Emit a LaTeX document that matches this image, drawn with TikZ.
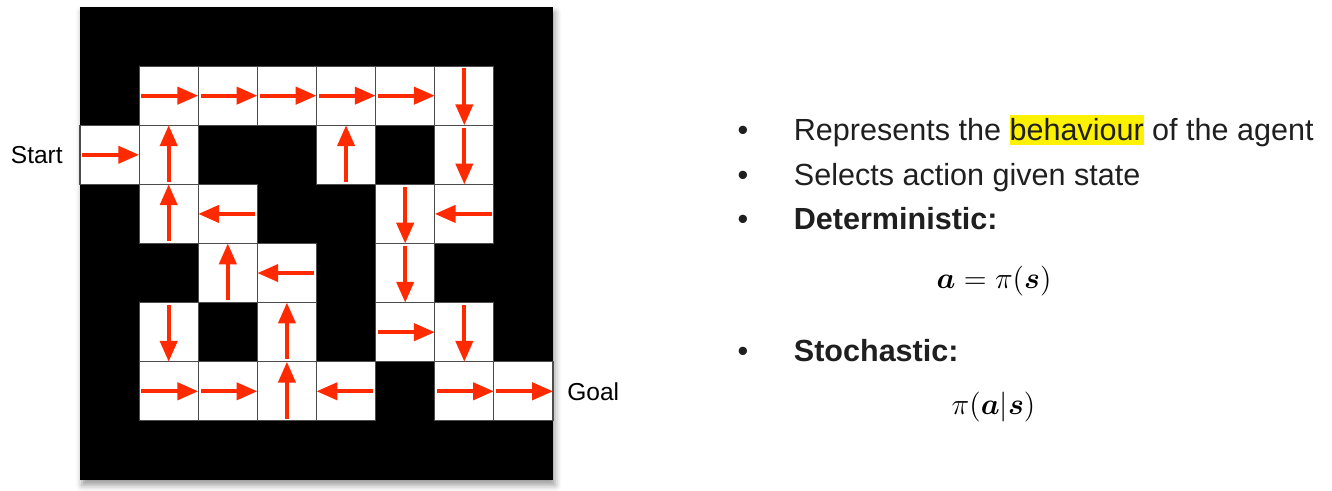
\documentclass[tikz,border=0pt]{standalone}
\usepackage{amsmath,amssymb}
\usepackage{xcolor}
\usepackage[no-math]{fontspec}
\setmainfont{Liberation Sans}
\usetikzlibrary{arrows.meta,positioning,shadows.blur}

\definecolor{polred}{RGB}{255,42,0}
\definecolor{marker}{RGB}{255,242,0}
\newcommand{\hl}[1]{{\setlength{\fboxsep}{0pt}\colorbox{marker}{\rule[-0.13em]{0pt}{0.98em}#1}}}

\tikzset{
  cell/.style={draw=black!70, fill=white, line width=0.5pt, minimum size=1cm, inner sep=0pt},
  pol/.style={draw=polred, line width=1.8pt, -{Triangle[length=10pt,width=8.2pt]}},
  lbl/.style={inner sep=0pt, font=\fontsize{11.8}{14}\selectfont},
  txt/.style={inner sep=0pt, text=black!88, font=\fontsize{14.7}{17.6}\selectfont},
  eq/.style={inner sep=0pt, font=\fontsize{14}{17}\selectfont}
}

\begin{document}
\begin{tikzpicture}[x=1cm, y=-1cm, thick]
    \useasboundingbox (-1.353,-0.118) rectangle (21.175,8.186);
    % the maze
    \fill[black, blur shadow={shadow xshift=1pt, shadow yshift=-2.5pt, shadow blur radius=3pt}] (0,0) rectangle (8,8);
    \foreach \c/\r in {1/1,2/1,3/1,4/1,5/1,6/1, 0/2,1/2,4/2,6/2, 1/3,2/3,5/3,6/3,
                       2/4,3/4,5/4, 1/5,3/5,5/5,6/5, 1/6,2/6,3/6,4/6,6/6,7/6}
        \node[cell] (c\c\r) at (\c+0.5,\r+0.5) {};
    % policy arrows
    \foreach \c/\r/\dx/\dy in {1/1/1/0,2/1/1/0,3/1/1/0,4/1/1/0,5/1/1/0,6/1/0/1,
                               0/2/1/0,1/2/0/-1,4/2/0/-1,6/2/0/1,
                               1/3/0/-1,2/3/-1/0,5/3/0/1,6/3/-1/0,
                               2/4/0/-1,3/4/-1/0,5/4/0/1,
                               1/5/0/1,3/5/0/-1,5/5/1/0,6/5/0/1,
                               1/6/1/0,2/6/1/0,3/6/0/-1,4/6/-1/0,6/6/1/0,7/6/1/0}
        \draw[pol] (c\c\r) ++(-0.46*\dx,-0.46*\dy) -- ++(0.96*\dx,0.96*\dy);
    \node[lbl, left=0.27cm of c02] (start) {Start};
    \node[lbl, right=0.22cm of c76] (goal) {Goal};
    % bullet list
    \node[txt, anchor=base] (b1) at (11.214,2.266) {\textbullet};
    \node[txt, anchor=base] (b2) at (11.214,3.011) {\textbullet};
    \node[txt, anchor=base] (b3) at (11.214,3.755) {\textbullet};
    \node[txt, anchor=base] (b4) at (11.214,6.004) {\textbullet};
    \node[txt, anchor=base west] (l1) at (12.06,2.266) {Represents the \hl{behaviour} of the agent};
    \node[txt, anchor=base west] (l2) at (12.06,3.011) {Selects action given state};
    \node[txt, anchor=base west] (l3) at (12.06,3.755) {\bfseries Deterministic:};
    \node[txt, anchor=base west] (l4) at (12.06,6.004) {\bfseries Stochastic:};
    \node[eq, anchor=base] (det) at (15.459,4.753) {$\boldsymbol{a} = \pi(\boldsymbol{s})$};
    \node[eq, anchor=base] (sto) at (15.45,6.884) {$\pi(\boldsymbol{a}|\boldsymbol{s})$};
\end{tikzpicture}
\end{document}
